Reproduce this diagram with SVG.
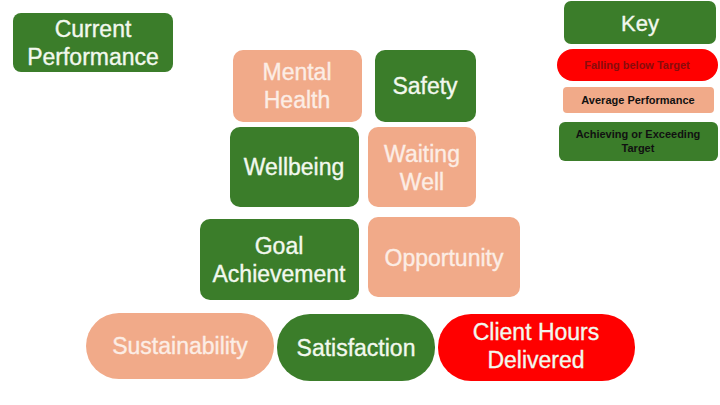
<svg xmlns="http://www.w3.org/2000/svg" width="720" height="405" viewBox="0 0 720 405">
<style>
.g{fill:#3B7D2A}
.s{fill:#F1AA89}
.r{fill:#FF0000}
.t{font-family:"Liberation Sans","Open Sans",sans-serif;font-size:23px;fill:#F2F8EE;stroke:#F2F8EE;stroke-width:0.35;text-anchor:middle;dominant-baseline:central}
.ts{fill:#FCEDE5;stroke:#FCEDE5}
.k{font-family:"Liberation Sans","Open Sans",sans-serif;font-size:11px;font-weight:bold;text-anchor:middle;dominant-baseline:central}
</style>
<rect width="720" height="405" fill="#ffffff"/>
<g id="current-performance">
<rect class="g" x="13" y="13" width="160" height="59" rx="8"/>
<text class="t" x="93" y="29">Current</text>
<text class="t" x="93" y="57">Performance</text>
</g>
<g id="key">
<rect class="g" x="564" y="1" width="152" height="43" rx="7"/>
<text class="t" x="640" y="23" style="font-size:22px">Key</text>
</g>
<g id="key-falling">
<rect class="r" x="557" y="49" width="161" height="32" rx="16"/>
<text class="k" x="637" y="65" fill="#8A0C0C">Falling below Target</text>
</g>
<g id="key-average">
<rect class="s" x="563" y="87" width="151" height="26" rx="4"/>
<text class="k" x="638" y="100" fill="#111">Average Performance</text>
</g>
<g id="key-achieving">
<rect class="g" x="559" y="122" width="159" height="39" rx="6"/>
<text class="k" x="638" y="134" fill="#111">Achieving or Exceeding</text>
<text class="k" x="638" y="148" fill="#111">Target</text>
</g>
<g id="mental-health">
<rect class="s" x="233" y="50" width="129" height="72" rx="10"/>
<text class="t ts" x="297" y="72">Mental</text>
<text class="t ts" x="297" y="100">Health</text>
</g>
<g id="safety">
<rect class="g" x="375" y="50" width="101" height="72" rx="10"/>
<text class="t" x="425" y="86">Safety</text>
</g>
<g id="wellbeing">
<rect class="g" x="230" y="127" width="129" height="80" rx="10"/>
<text class="t" x="294" y="167">Wellbeing</text>
</g>
<g id="waiting-well">
<rect class="s" x="368" y="127" width="108" height="80" rx="10"/>
<text class="t ts" x="422" y="154">Waiting</text>
<text class="t ts" x="422" y="182">Well</text>
</g>
<g id="goal-achievement">
<rect class="g" x="200" y="219" width="159" height="81" rx="10"/>
<text class="t" x="279" y="246">Goal</text>
<text class="t" x="279" y="274">Achievement</text>
</g>
<g id="opportunity">
<rect class="s" x="368" y="217" width="152" height="80" rx="10"/>
<text class="t ts" x="444" y="258">Opportunity</text>
</g>
<g id="sustainability">
<rect class="s" x="86" y="313" width="188" height="66" rx="33"/>
<text class="t ts" x="180" y="346">Sustainability</text>
</g>
<g id="satisfaction">
<rect class="g" x="277" y="314" width="158" height="67" rx="33"/>
<text class="t" x="356" y="348">Satisfaction</text>
</g>
<g id="client-hours">
<rect class="r" x="438" y="314" width="197" height="67" rx="33"/>
<text class="t" x="536" y="332">Client Hours</text>
<text class="t" x="536" y="360">Delivered</text>
</g>
<g id="connectors"></g>
</svg>
